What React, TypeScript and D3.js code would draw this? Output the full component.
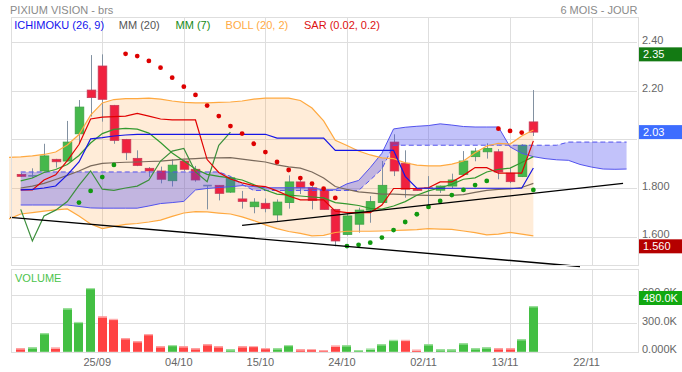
import React from "react";
import * as d3 from "d3";

// trading sessions shown (2018) and the projected days used by the cloud
const sessions = [
  "14/09", "17/09", "18/09", "19/09", "20/09", "21/09", "24/09", "25/09", "26/09", "27/09", "28/09",
  "01/10", "02/10", "03/10", "04/10", "05/10", "08/10", "09/10", "10/10", "11/10", "12/10",
  "15/10", "16/10", "17/10", "18/10", "19/10", "22/10", "23/10", "24/10", "25/10", "26/10", "29/10", "30/10", "31/10",
  "01/11", "02/11", "05/11", "06/11", "07/11", "08/11", "09/11", "12/11", "13/11", "14/11", "15/11",
];
const projected = ["16/11", "19/11", "20/11", "21/11", "22/11", "23/11", "26/11", "27/11"];
const tickDates = ["25/09", "04/10", "15/10", "24/10", "02/11", "13/11", "22/11"];

const open = [1.856, 1.850, 1.870, 1.918, 1.911, 2.023, 2.203, 2.302, 2.140, 2.000, 1.922, 1.881, 1.870, 1.830, 1.911, 1.877, 1.810, 1.811, 1.783, 1.755, 1.723, 1.737, 1.689, 1.740, 1.825, 1.801, 1.792, 1.712, 1.609, 1.651, 1.709, 1.740, 1.989, 1.902, 1.797, 1.800, 1.791, 1.808, 1.856, 1.929, 1.949, 1.949, 1.861, 1.847, 2.072];
const high = [1.862, 1.881, 1.982, 1.920, 2.076, 2.162, 2.347, 2.350, 2.142, 2.002, 1.955, 1.886, 1.888, 1.918, 1.915, 1.891, 1.812, 1.812, 1.848, 1.788, 1.758, 1.757, 1.753, 1.852, 1.846, 1.811, 1.800, 1.714, 1.698, 1.719, 1.767, 1.911, 2.021, 1.955, 1.800, 1.849, 1.810, 1.859, 1.952, 1.965, 1.984, 1.960, 1.881, 1.980, 2.203];
const low = [1.845, 1.842, 1.868, 1.884, 1.909, 1.985, 2.094, 2.073, 1.982, 1.915, 1.890, 1.846, 1.819, 1.806, 1.870, 1.826, 1.712, 1.749, 1.780, 1.715, 1.696, 1.700, 1.664, 1.715, 1.775, 1.712, 1.712, 1.560, 1.605, 1.616, 1.657, 1.738, 1.849, 1.760, 1.788, 1.726, 1.780, 1.800, 1.850, 1.910, 1.921, 1.836, 1.820, 1.845, 2.014];
const close = [1.848, 1.850, 1.932, 1.908, 1.989, 2.133, 2.172, 2.165, 1.996, 1.945, 1.893, 1.870, 1.836, 1.894, 1.877, 1.833, 1.810, 1.778, 1.842, 1.745, 1.742, 1.715, 1.742, 1.825, 1.801, 1.749, 1.712, 1.582, 1.685, 1.709, 1.744, 1.811, 1.870, 1.795, 1.790, 1.800, 1.808, 1.833, 1.911, 1.952, 1.963, 1.866, 1.826, 1.976, 2.030];
// volume in thousands
const volume = [36, 46, 196, 43, 457, 314, 671, 371, 346, 143, 111, 186, 57, 71, 57, 36, 79, 57, 25, 57, 61, 39, 36, 71, 25, 29, 18, 64, 68, 18, 32, 79, 125, 125, 21, 79, 25, 25, 89, 36, 46, 36, 36, 132, 480];

// bollinger bands start one session earlier (13/09)
const bollUpper = [1.926, 1.928, 1.932, 1.938, 1.948, 1.977, 2.020, 2.100, 2.150, 2.164, 2.168, 2.168, 2.170, 2.166, 2.158, 2.152, 2.150, 2.150, 2.152, 2.154, 2.158, 2.166, 2.170, 2.170, 2.170, 2.160, 2.129, 2.076, 1.996, 1.975, 1.952, 1.936, 1.924, 1.921, 1.904, 1.894, 1.891, 1.891, 1.898, 1.911, 1.945, 1.973, 1.984, 1.981, 2.014, 2.039];
const bollLower = [1.673, 1.693, 1.699, 1.705, 1.710, 1.714, 1.685, 1.652, 1.633, 1.642, 1.650, 1.654, 1.660, 1.668, 1.683, 1.697, 1.703, 1.702, 1.697, 1.693, 1.681, 1.666, 1.648, 1.633, 1.621, 1.613, 1.603, 1.605, 1.617, 1.622, 1.622, 1.622, 1.623, 1.625, 1.627, 1.629, 1.633, 1.631, 1.630, 1.623, 1.616, 1.607, 1.610, 1.617, 1.610, 1.603];
const mm20 = [1.800, 1.808, 1.819, 1.835, 1.852, 1.870, 1.891, 1.901, 1.904, 1.906, 1.907, 1.909, 1.911, 1.915, 1.919, 1.921, 1.924, 1.924, 1.925, 1.919, 1.913, 1.907, 1.895, 1.887, 1.882, 1.866, 1.841, 1.806, 1.794, 1.784, 1.780, 1.775, 1.775, 1.773, 1.771, 1.770, 1.770, 1.770, 1.773, 1.782, 1.790, 1.794, 1.796, 1.802, 1.819];
const mm7 = [1.829, 1.841, 1.864, 1.876, 1.897, 1.934, 1.985, 2.024, 2.041, 2.045, 2.042, 2.026, 1.987, 1.944, 1.911, 1.878, 1.856, 1.848, 1.842, 1.833, 1.814, 1.792, 1.775, 1.771, 1.767, 1.763, 1.759, 1.740, 1.735, 1.728, 1.716, 1.713, 1.726, 1.744, 1.770, 1.788, 1.801, 1.815, 1.836, 1.842, 1.866, 1.877, 1.882, 1.905, 1.929];
const tenkan = [1.792, 1.792, 1.833, 1.854, 1.913, 1.979, 2.084, 2.092, 2.094, 2.096, 2.107, 2.096, 2.084, 2.080, 2.080, 2.080, 1.917, 1.864, 1.837, 1.821, 1.810, 1.806, 1.788, 1.767, 1.751, 1.751, 1.751, 1.705, 1.699, 1.699, 1.699, 1.730, 1.798, 1.798, 1.798, 1.801, 1.825, 1.825, 1.852, 1.884, 1.884, 1.861, 1.861, 1.861, 1.994];
const kijun = [1.792, 1.794, 1.800, 1.808, 1.854, 1.907, 2.002, 2.007, 2.014, 2.018, 2.021, 2.021, 2.021, 2.021, 2.021, 2.021, 2.021, 2.021, 2.021, 2.021, 2.021, 2.021, 2.005, 2.005, 2.005, 2.005, 2.005, 1.955, 1.955, 1.955, 1.955, 1.955, 1.955, 1.848, 1.799, 1.799, 1.799, 1.799, 1.799, 1.799, 1.799, 1.799, 1.799, 1.799, 1.882];
// cloud spans run 8 days past the last session
const senkouA = [1.730, 1.730, 1.730, 1.730, 1.730, 1.724, 1.718, 1.717, 1.717, 1.717, 1.717, 1.726, 1.736, 1.740, 1.745, 1.792, 1.798, 1.802, 1.805, 1.810, 1.806, 1.801, 1.801, 1.801, 1.801, 1.801, 1.792, 1.793, 1.817, 1.831, 1.884, 1.943, 2.043, 2.050, 2.054, 2.057, 2.064, 2.059, 2.053, 2.051, 2.051, 2.051, 1.969, 1.943, 1.929, 1.921, 1.916, 1.914, 1.897, 1.886, 1.878, 1.877, 1.878];
const senkouB = [1.866, 1.866, 1.866, 1.866, 1.866, 1.866, 1.866, 1.866, 1.866, 1.866, 1.866, 1.866, 1.866, 1.866, 1.866, 1.866, 1.866, 1.866, 1.848, 1.815, 1.790, 1.790, 1.790, 1.790, 1.790, 1.790, 1.790, 1.790, 1.790, 1.790, 1.833, 1.878, 1.976, 1.976, 1.976, 1.976, 1.976, 1.976, 1.976, 1.976, 1.976, 1.976, 1.976, 1.976, 1.976, 1.976, 1.976, 1.989, 1.989, 1.989, 1.989, 1.989, 1.989];
const sar = [null, null, null, null, null, 1.740, 1.788, 1.845, 1.895, 2.352, 2.343, 2.323, 2.295, 2.254, 2.217, 2.183, 2.139, 2.096, 2.055, 2.024, 1.982, 1.948, 1.907, 1.874, 1.841, 1.818, 1.797, 1.759, 1.561, 1.566, 1.575, 1.596, 1.627, 1.660, 1.692, 1.722, 1.747, 1.771, 1.792, 1.812, 1.829, 2.044, 2.035, 2.028, 1.792];

// trendlines: [session index, price]
const supportLine: [number, number][] = [[-0.9, 1.679], [48, 1.477]];
const risingLine: [number, number][] = [[19, 1.646], [51.7, 1.819]];

const gridPrices = [1.6, 1.8, 2.0, 2.2, 2.4];
const priceTicks = [1.6, 1.8, 2.2, 2.4];
const priceTickLabels = ["1.600", "1.800", "2.20", "2.40"];
const volumeTicks = [0, 300, 600];
const volumeTickLabels = ["0.000K", "300.0K", "600.0K"];

const FONT = "'Liberation Sans', Arial, Helvetica, sans-serif";
const LEFT = 10.7, RIGHT = 637.4;
const MAIN_TOP = 17, MAIN_BOTTOM = 265.3;
const VOL_TOP = 269.3, VOL_BOTTOM = 351.8;
const GRID = "#dedede";

const crisp = (v: number) => Math.round(v) + 0.5;

export default function App() {
  const days = sessions.concat(projected);
  const x = d3.scaleLinear().domain([-0.86, days.length - 0.07]).range([LEFT, RIGHT]);
  const y = d3.scaleLinear().domain([1.6, 2.4]).range([236.6, 42.2]);
  const yv = d3.scaleLinear().domain([0, 600]).range([VOL_BOTTOM, 294.8]);

  const line = d3.line<[number, number]>().x(d => x(d[0])).y(d => y(d[1]));
  const indexed = (arr: number[], start = 0) => arr.map((v, i) => [i + start, v] as [number, number]);

  const bollArea = d3.area<number>()
    .x((_, i) => x(i - 1))
    .y0((_, i) => y(bollLower[i]))
    .y1(d => y(d));
  const cloudArea = d3.area<number>()
    .x((_, i) => x(i))
    .y0((_, i) => y(senkouB[i]))
    .y1(d => y(d));

  // lagging span = close shifted 26 sessions back
  const chikou = close.slice(26).map((c, i) => [i, c] as [number, number]);

  const hi = d3.max(high)!;
  const lo = d3.min(low)!;
  const last = close[close.length - 1];
  const lastVol = volume[volume.length - 1];

  const tags = [
    { v: hi, label: d3.format(".2f")(hi), color: "#137a13" },
    { v: last, label: d3.format(".2f")(last), color: "#3d6dff" },
    { v: lo, label: d3.format(".3f")(lo), color: "#b50000" },
  ];

  const legend = [
    { text: "ICHIMOKU (26, 9)", x: 14.3, color: "#1212ee" },
    { text: "MM (20)", x: 118.8, color: "#555555" },
    { text: "MM (7)", x: 175.5, color: "#178a17" },
    { text: "BOLL (20, 2)", x: 225.6, color: "#ffaa44" },
    { text: "SAR (0.02, 0.2)", x: 304, color: "#dd1111" },
  ];

  return (
    <svg width={682} height={372} style={{ position: "absolute", left: 0, top: 0, background: "#fff" }}
      fontFamily={FONT}>
      {/* titles */}
      <text x={10} y={13.5} fontSize={11} fill="#8a8a8a">PIXIUM VISION - brs</text>
      <text x={RIGHT} y={13.5} fontSize={11} fill="#8a8a8a" textAnchor="end">6 MOIS - JOUR</text>

      {/* grid */}
      <g stroke={GRID} strokeWidth={1} shapeRendering="crispEdges">
        {gridPrices.map(p => <line key={p} x1={LEFT} x2={RIGHT} y1={crisp(y(p))} y2={crisp(y(p))} />)}
        {volumeTicks.slice(1).map(v => <line key={v} x1={LEFT} x2={RIGHT} y1={crisp(yv(v))} y2={crisp(yv(v))} />)}
        {tickDates.map(t => {
          const xx = crisp(x(days.indexOf(t)));
          return (
            <g key={t}>
              <line x1={xx} x2={xx} y1={MAIN_TOP} y2={MAIN_BOTTOM} />
              <line x1={xx} x2={xx} y1={VOL_TOP} y2={VOL_BOTTOM} />
            </g>
          );
        })}
      </g>

      {/* bollinger fill */}
      <path d={bollArea(bollUpper)!} fill="rgba(255,160,60,0.2)" />

      {/* candles */}
      {close.map((c, i) => {
        const o = open[i];
        const cx = crisp(x(i));
        const top = y(Math.max(o, c));
        const bot = y(Math.min(o, c));
        const flat = o === c;
        const up = c > o;
        return (
          <g key={i}>
            <line x1={cx} x2={cx} y1={y(high[i])} y2={y(low[i])} stroke="#8291a1" strokeWidth={1} />
            <rect x={cx - 4.3} width={8.6} y={flat ? top - 0.8 : top} height={flat ? 1.6 : bot - top}
              fill={flat ? "#8291a1" : up ? "#46b84c" : "#f0213f"}
              stroke={flat ? "none" : up ? "#3da243" : "#c63a58"} strokeWidth={0.8} />
          </g>
        );
      })}

      {/* ichimoku cloud */}
      <path d={cloudArea(senkouA)!} fill="rgba(70,70,240,0.33)" />
      <path d={line(indexed(senkouA))!} fill="none" stroke="#5252ee" strokeWidth={1} />
      <path d={line(indexed(senkouB))!} fill="none" stroke="#5252ee" strokeWidth={1} strokeDasharray="5,3" />

      {/* bands and averages */}
      <path d={line(indexed(bollUpper, -1))!} fill="none" stroke="#ffa940" strokeWidth={1.2} />
      <path d={line(indexed(bollLower, -1))!} fill="none" stroke="#ffa940" strokeWidth={1.2} />
      <path d={line(indexed(mm20))!} fill="none" stroke="#7a6a5c" strokeWidth={1.2} />
      <path d={line(indexed(mm7))!} fill="none" stroke="#33992f" strokeWidth={1.2} />
      <path d={line(chikou)!} fill="none" stroke="#3c8f3c" strokeWidth={1.2} />
      <path d={line(indexed(tenkan))!} fill="none" stroke="#e00000" strokeWidth={1.2} />
      <path d={line(indexed(kijun))!} fill="none" stroke="#1515e6" strokeWidth={1.2} />

      {/* parabolic SAR */}
      {sar.map((s, i) => s == null ? null : (
        <circle key={i} cx={x(i)} cy={y(s)} r={2.4} fill={s > close[i] ? "#dd0000" : "#119911"} />
      ))}

      {/* trendlines */}
      <path d={line(supportLine)!} stroke="#000" strokeWidth={1.4} fill="none" />
      <path d={line(risingLine)!} stroke="#000" strokeWidth={1.4} fill="none" />

      {/* legend */}
      {legend.map(l => (
        <text key={l.text} x={l.x} y={29} fontSize={11} fill={l.color}>{l.text}</text>
      ))}

      {/* frames */}
      <g fill="none" stroke={GRID} shapeRendering="crispEdges">
        <rect x={crisp(LEFT)} y={crisp(MAIN_TOP)} width={Math.round(RIGHT - LEFT)} height={Math.round(MAIN_BOTTOM - MAIN_TOP)} />
        <rect x={crisp(LEFT)} y={crisp(VOL_TOP)} width={Math.round(RIGHT - LEFT)} height={Math.round(VOL_BOTTOM - VOL_TOP)} />
      </g>

      {/* price axis */}
      {priceTicks.map((p, i) => (
        <text key={p} x={642} y={y(p) + 1.5} fontSize={11} fill="#666">{priceTickLabels[i]}</text>
      ))}
      {tags.map(t => (
        <g key={t.label}>
          <rect x={639} y={y(t.v) - 7} width={43} height={14} fill={t.color} />
          <text x={643} y={y(t.v) + 4} fontSize={11} fill="#fff">{t.label}</text>
        </g>
      ))}

      {/* volume */}
      <text x={15} y={282} fontSize={11} fill="#4cc44c">VOLUME</text>
      {volume.map((v, i) => {
        const up = i > 0 && close[i] >= close[i - 1];
        const bx = Math.round(x(i) - 4.5);
        const top = yv(v);
        return (
          <g key={i}>
            <rect x={bx} y={top} width={9} height={VOL_BOTTOM - top} fill={up ? "#43bf43" : "#ff4343"} />
            <rect x={bx} y={top} width={9} height={1.2} fill={up ? "#a6e3a6" : "#ffb0b0"} />
          </g>
        );
      })}
      {volumeTicks.map((v, i) => (
        <text key={v} x={642} y={yv(v) + 1.5} fontSize={11} fill="#666">{volumeTickLabels[i]}</text>
      ))}
      <rect x={639} y={291} width={43} height={14} fill="#11a811" />
      <text x={643} y={302} fontSize={11} fill="#fff">{d3.format(".1f")(lastVol) + "K"}</text>

      {/* dates */}
      {tickDates.map(t => (
        <text key={t} x={x(days.indexOf(t)) - 5} y={366} fontSize={11} fill="#666" textAnchor="middle">{t}</text>
      ))}
    </svg>
  );
}
